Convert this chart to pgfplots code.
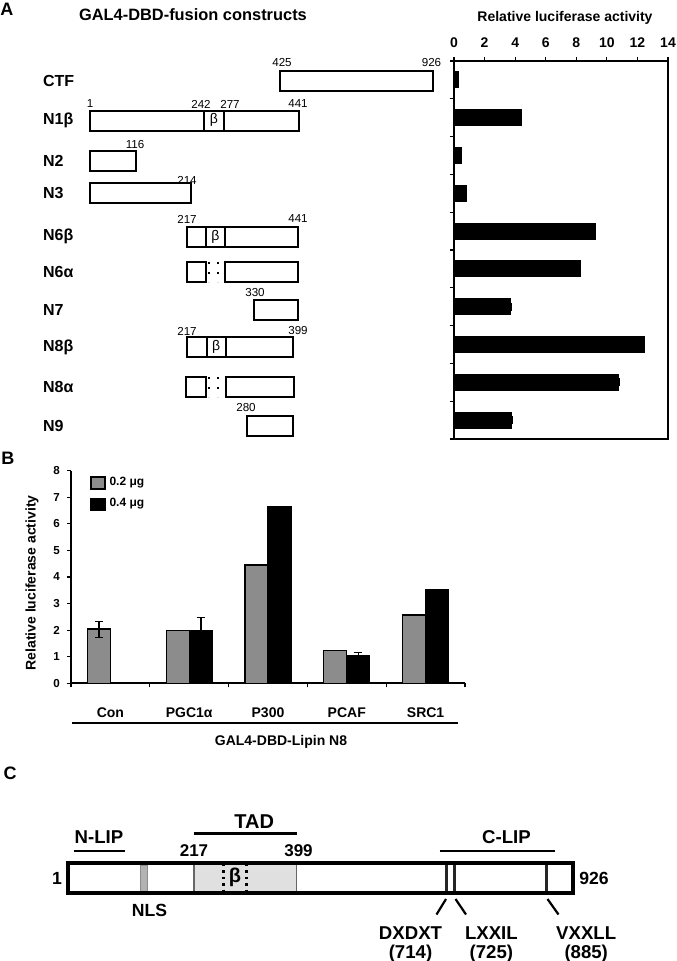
\documentclass[border=0pt]{standalone}
\usepackage{fontspec}
\setmainfont{Liberation Sans}
\usepackage{pgfplots}
\pgfplotsset{compat=1.18}
\newcommand\fs[1]{\fontsize{#1}{#1}\selectfont}
\tikzset{
  bx/.style={draw=black, line width=1pt, line join=miter, fill=white},
  num/.style={font=\fs{5.8}},
  lab/.style={font=\bfseries\fs{8}, anchor=west},
  clab/.style={font=\bfseries\fs{9.3}}}
\begin{document}
\begin{tikzpicture}
\useasboundingbox (0,0) rectangle (338pt,480.5pt);
% ---------------- canvas (pixel units, y downwards) ----------------
\begin{axis}[at={(0pt,480.5pt)}, anchor=north west, x=0.5pt, y=0.5pt,
  xmin=0, xmax=676, ymin=0, ymax=961, y dir=reverse, hide axis, clip=false]
% panel letters
\node[font=\bfseries\fs{9}] at (7,9) {A};
\node[font=\bfseries\fs{9}] at (8,458) {B};
\node[font=\bfseries\fs{9}] at (10,773) {C};
% ---- Panel A diagram ----
\node[font=\bfseries\fs{8.2}, anchor=west] at (72,15) {GAL4-DBD-fusion constructs};
\node[font=\bfseries\fs{7}] at (565,18) {Relative luciferase activity};
% row labels
\node[lab] at (36,81) {CTF};
\node[lab] at (36,120) {N1β};
\node[lab] at (36,160.7) {N2};
\node[lab] at (36,193.3) {N3};
\node[lab] at (36,236.7) {N6β};
\node[lab] at (36,271.7) {N6α};
\node[lab] at (36,310) {N7};
\node[lab] at (36,347) {N8β};
\node[lab] at (36,386.7) {N8α};
\node[lab] at (36,426) {N9};
% boxes
\addplot[bx] coordinates {(280,71)(433,71)(433,91)(280,91)(280,71)(433,71)};
\addplot[bx] coordinates {(90,110.7)(299,110.7)(299,130.7)(90,130.7)(90,110.7)(299,110.7)};
\addplot[draw=black, line width=1pt] coordinates {(204,110.7)(204,130.7)};
\addplot[draw=black, line width=1pt] coordinates {(224,110.7)(224,130.7)};
\addplot[bx] coordinates {(90,150.7)(136,150.7)(136,170.7)(90,170.7)(90,150.7)(136,150.7)};
\addplot[bx] coordinates {(90,183)(190.7,183)(190.7,203)(90,203)(90,183)(190.7,183)};
\addplot[bx] coordinates {(187,226.7)(297.7,226.7)(297.7,246.7)(187,246.7)(187,226.7)(297.7,226.7)};
\addplot[draw=black, line width=1pt] coordinates {(205.7,226.7)(205.7,246.7)};
\addplot[draw=black, line width=1pt] coordinates {(225,226.7)(225,246.7)};
\addplot[bx] coordinates {(187,261.7)(205.7,261.7)(205.7,281.7)(187,281.7)(187,261.7)(205.7,261.7)};
\addplot[bx] coordinates {(225,261.7)(297.7,261.7)(297.7,281.7)(225,281.7)(225,261.7)(297.7,261.7)};
\addplot[draw=black, line width=1pt, dash pattern=on 1pt off 4pt] coordinates {(209,262)(209,282)};
\addplot[draw=black, line width=1pt, dash pattern=on 1pt off 4pt] coordinates {(218,262)(218,282)};
\addplot[bx] coordinates {(254,300)(297.7,300)(297.7,320)(254,320)(254,300)(297.7,300)};
\addplot[bx] coordinates {(187,337)(293.3,337)(293.3,357)(187,357)(187,337)(293.3,337)};
\addplot[draw=black, line width=1pt] coordinates {(206.7,337)(206.7,357)};
\addplot[draw=black, line width=1pt] coordinates {(225.7,337)(225.7,357)};
\addplot[bx] coordinates {(186,376.7)(205.7,376.7)(205.7,396.7)(186,396.7)(186,376.7)(205.7,376.7)};
\addplot[bx] coordinates {(225.7,376.7)(294,376.7)(294,396.7)(225.7,396.7)(225.7,376.7)(294,376.7)};
\addplot[draw=black, line width=1pt, dash pattern=on 1pt off 4pt] coordinates {(209,377)(209,397)};
\addplot[draw=black, line width=1pt, dash pattern=on 1pt off 4pt] coordinates {(218,377)(218,397)};
\addplot[bx] coordinates {(246.7,416)(293.3,416)(293.3,436)(246.7,436)(246.7,416)(293.3,416)};
% beta labels
\node[font=\fs{7}] at (214,120) {β};
\node[font=\fs{7}] at (215.4,236.7) {β};
\node[font=\fs{7}] at (216.2,347) {β};
% position numbers
\node[num] at (282,62.7) {425};
\node[num] at (431.5,62.7) {926};
\node[num] at (90,104) {1};
\node[num] at (201,104) {242};
\node[num] at (230,104) {277};
\node[num] at (298,104) {441};
\node[num] at (135,145) {116};
\node[num] at (187,180) {214};
\node[num] at (187,219) {217};
\node[num] at (298,219) {441};
\node[num] at (255,293) {330};
\node[num] at (187,331) {217};
\node[num] at (298,331) {399};
\node[num] at (246,407.7) {280};
% ---- Panel B extras ----
\node[font=\bfseries\fs{7}, rotate=90] at (32,583) {Relative luciferase activity};
\addplot[draw=black, line width=1pt] coordinates {(72,723.3)(458,723.3)};
\node[font=\bfseries\fs{7}] at (281,741.7) {GAL4-DBD-Lipin N8};
% ---- Panel C ----
\addplot[fill=black!12, draw=black!60, line width=0.7pt] coordinates {(194,863)(296.5,863)(296.5,892)(194,892)(194,863)};
\addplot[draw=black, line width=1.2pt, dotted] coordinates {(223.5,864)(223.5,892)};
\addplot[draw=black, line width=1.2pt, dotted] coordinates {(246.5,864)(246.5,892)};
\node[font=\bfseries\fs{10}] at (235,877) {β};
\addplot[fill=black!30, draw=black!45, line width=0.4pt] coordinates {(140.5,865)(147.5,865)(147.5,891)(140.5,891)(140.5,865)};
\addplot[draw=black!85, line width=1.6pt] coordinates {(446.7,862)(446.7,894)};
\addplot[draw=black!85, line width=1.6pt] coordinates {(454.7,862)(454.7,894)};
\addplot[draw=black!85, line width=1.6pt] coordinates {(546.6,862)(546.6,894)};
\addplot[draw=black, line width=2pt, line join=miter] coordinates {(68,862.5)(573,862.5)(573,893)(68,893)(68,862.5)(573,862.5)};
\addplot[draw=black, line width=1.1pt] coordinates {(446,899)(436.5,914.5)};
\addplot[draw=black, line width=1.1pt] coordinates {(455.5,899)(466,914.5)};
\addplot[draw=black, line width=1.1pt] coordinates {(547.5,899)(558.5,914.5)};
\addplot[draw=black, line width=1.4pt] coordinates {(74,851)(125,851)};
\addplot[draw=black, line width=1.4pt] coordinates {(194,833.3)(297.4,833.3)};
\addplot[draw=black, line width=1.4pt] coordinates {(439.7,851)(555.2,851)};
\node[clab] at (99,836.7) {N-LIP};
\node[clab, font=\bfseries\fs{10}] at (254.3,821.7) {TAD};
\node[clab] at (506.5,836.7) {C-LIP};
\node[font=\bfseries\fs{8.5}] at (194,851) {217};
\node[font=\bfseries\fs{8.5}] at (298.5,851) {399};
\node[font=\bfseries\fs{8.8}] at (57,878) {1};
\node[font=\bfseries\fs{8.8}] at (594,878) {926};
\node[clab, font=\bfseries\fs{8.8}] at (149.5,910.5) {NLS};
\node[clab] at (410.5,932.7) {DXDXT};
\node[clab] at (410.5,953.3) {(714)};
\node[clab] at (491.4,932.7) {LXXIL};
\node[clab] at (491.4,953.3) {(725)};
\node[clab] at (586.2,932.7) {VXXLL};
\node[clab] at (586.2,953.3) {(885)};
\end{axis}
% ---------------- Panel A bar chart ----------------
\begin{axis}[at={(227pt,261pt)}, anchor=south west, scale only axis,
  width=107pt, height=189pt,
  xbar, bar width=8pt, xmin=0, xmax=14, ymin=0, ymax=10, y dir=reverse,
  xtick={0,2,...,14}, xtick pos=right, xticklabel pos=right,
  ytick={0,...,10}, yticklabels={}, ytick pos=left,
  tick align=outside, major tick length=2pt,
  tick label style={font=\bfseries\fs{7}},
  xticklabel style={yshift=1pt},
  /pgf/number format/assume math mode=true,
  axis line style={line width=0.8pt}, tick style={line width=0.6pt, black}]
\addplot[fill=black, draw=black, error bars/.cd, x dir=plus, x explicit,
  error bar style={line width=0.8pt}]
  coordinates {(0.28,0.5) (4.43,1.5) (0.50,2.5) (0.83,3.5) (9.22,4.5) (8.24,5.5)
               (3.66,6.5) +- (0.12,0) (12.45,7.5) (10.75,8.5) +- (0.1,0) (3.77,9.5) +- (0.05,0)};
\end{axis}
% ---------------- Panel B bar chart ----------------
\begin{axis}[at={(35.5pt,138.85pt)}, anchor=south west, scale only axis,
  width=197pt, height=106.3pt,
  xmin=0, xmax=5, ymin=0, ymax=8, axis lines=left,
  axis line style={-, line width=0.8pt},
  ybar=0pt, bar width=11.5pt,
  xtick={0.5,1.5,2.5,3.5,4.5}, xticklabels={Con,PGC1α,P300,PCAF,SRC1},
  minor xtick={0,1,2,3,4,5}, major x tick style={draw=none},
  ytick={0,...,8}, tick align=outside, major tick length=2pt, minor tick length=2pt,
  tick style={line width=0.6pt, black},
  xticklabel style={font=\bfseries\fs{7}, yshift=-6.5pt},
  yticklabel style={font=\bfseries\fs{5.8}},
  /pgf/number format/assume math mode=true,
  legend style={at={(0.048,0.99)}, anchor=north west, draw=none, fill=none,
    font=\bfseries\fs{6}, inner sep=0pt, row sep=1pt, cells={anchor=west}},
  legend image code/.code={\draw[#1] (0pt,-3pt) rectangle (7pt,3pt);}]
\addplot[fill=black!45, draw=black, line width=0.6pt,
  error bars/.cd, y dir=both, y explicit, error bar style={line width=0.8pt}]
  coordinates {(0.5,2.04) +- (0,0.3) (1.5,2.0) +- (0,0) (2.5,4.45) +- (0,0) (3.5,1.23) +- (0,0) (4.5,2.57) +- (0,0)};
\addplot[fill=black, draw=black, line width=0.6pt,
  error bars/.cd, y dir=plus, y explicit, error bar style={line width=0.8pt}]
  coordinates {(1.5,1.97) +- (0,0.5) (2.5,6.64) +- (0,0) (3.5,1.03) +- (0,0.12) (4.5,3.51) +- (0,0)};
\legend{0.2 μg, 0.4 μg}
\end{axis}
\end{tikzpicture}
\end{document}
